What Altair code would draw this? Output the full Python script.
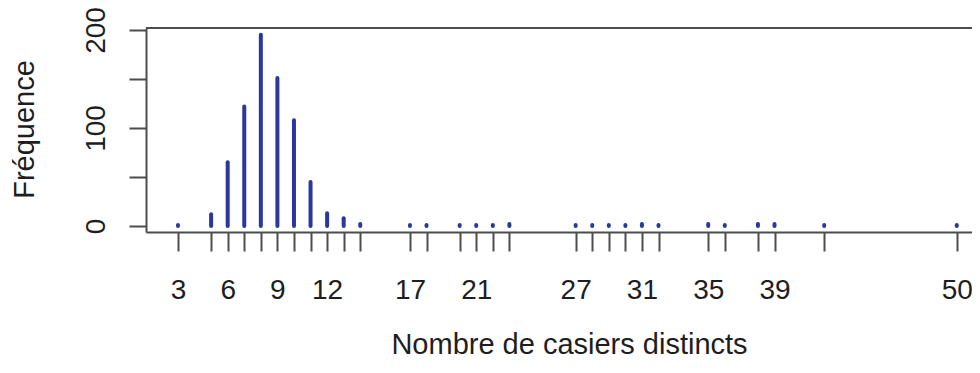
import altair as alt
import pandas as pd

# Distinct values observed (x) and their frequencies (y)
values = [3, 5, 6, 7, 8, 9, 10, 11, 12, 13, 14, 17, 18, 20, 21, 22, 23,
          27, 28, 29, 30, 31, 32, 35, 36, 38, 39, 42, 50]
freq = [1, 12, 65, 122, 195, 151, 108, 45, 13, 8, 2, 1, 1, 1, 1, 1, 2,
        1, 1, 1, 1, 2, 1, 2, 1, 2, 2, 1, 1]
shown_x_labels = [3, 6, 9, 12, 17, 21, 27, 31, 35, 39, 50]
y_ticks = [0, 50, 100, 150, 200]
shown_y_labels = [0, 100, 200]

df = pd.DataFrame({"n": values, "f": freq, "zero": [0] * len(values)})

FONT = "Liberation Sans"
LINE = "#4d4d4d"
TEXT = "#1e1e1e"
W, H = 826, 204

x_axis = alt.Axis(
    values=values,
    labelExpr=f"indexof({shown_x_labels}, datum.value) >= 0 ? datum.label : ''",
    labelOverlap=False,
    labelFlush=False,
    labelFont=FONT,
    labelFontSize=28,
    labelColor=TEXT,
    labelBaseline="alphabetic",
    labelPadding=47,
    tickSize=19,
    tickWidth=2,
    tickColor=LINE,
    domain=True,
    domainColor=LINE,
    domainWidth=2,
    grid=False,
    titleFont=FONT,
    titleFontSize=29,
    titleFontWeight="normal",
    titleColor=TEXT,
    titleX=423,
    titleY=121,
    titleAlign="center",
    titleBaseline="alphabetic",
)

y_axis = alt.Axis(
    values=y_ticks,
    labelExpr=f"indexof({shown_y_labels}, datum.value) >= 0 ? datum.label : ''",
    labelOverlap=False,
    labelFlush=False,
    labelAngle=270,
    labelAlign="center",
    labelBaseline="alphabetic",
    labelFont=FONT,
    labelFontSize=28,
    labelColor=TEXT,
    labelPadding=25,
    tickSize=17,
    tickWidth=2,
    tickColor=LINE,
    domain=True,
    domainColor=LINE,
    domainWidth=2,
    grid=False,
    titleFont=FONT,
    titleFontSize=29,
    titleFontWeight="normal",
    titleColor=TEXT,
    titleAngle=270,
    titleX=-113,
    titleY=101,
    titleAlign="center",
    titleBaseline="alphabetic",
)

bars = (
    alt.Chart(df)
    .mark_rule(color="#2a379c", strokeWidth=4, strokeCap="round")
    .encode(
        x=alt.X("n:Q", scale=alt.Scale(domain=[1.07, 1.07 + W / 16.57], nice=False, zero=False),
                axis=x_axis, title="Nombre de casiers distincts"),
        y=alt.Y("f:Q", scale=alt.Scale(domain=[-6.1, 202], nice=False, zero=False),
                axis=y_axis, title="Fréquence"),
        y2="zero:Q",
    )
)

top_border = (
    alt.Chart(pd.DataFrame({"k": [0]}))
    .mark_rule(color=LINE, strokeWidth=2)
    .encode(x=alt.value(0), x2=alt.value(W), y=alt.value(0))
)

chart = (
    alt.layer(bars, top_border)
    .properties(
        width=W,
        height=H,
        padding={"left": 138, "top": 20, "right": 0, "bottom": 128},
        autosize=alt.AutoSizeParams(type="none"),
    )
    .configure_view(stroke=None)
    .configure(background="white")
)

chart.save("out.html", embed_options={"renderer": "svg", "actions": False})
